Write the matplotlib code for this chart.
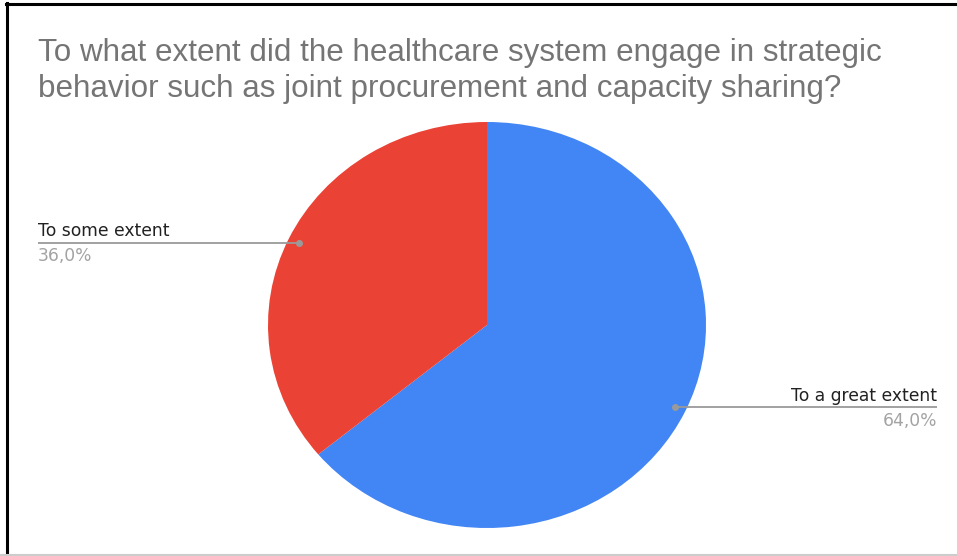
import matplotlib
matplotlib.use("Agg")
import matplotlib.pyplot as plt
import numpy as np
from matplotlib.lines import Line2D

title = "To what extent did the healthcare system engage in strategic\nbehavior such as joint procurement and capacity sharing?"
categories = ["To a great extent", "To some extent"]
values = [64.0, 36.0]
colors = ["#4285F4", "#EA4335"]

W, H = 957, 556
fig = plt.figure(figsize=(W / 100, H / 100), dpi=100)
fig.patch.set_facecolor("white")

# pie axes (slightly elliptical like reference)
px0, px1, py0, py1 = 268, 706, 122, 528
pax = fig.add_axes([px0 / W, 1 - py1 / H, (px1 - px0) / W, (py1 - py0) / H])
wedges, _ = pax.pie(values, colors=colors, startangle=90, counterclock=False,
                    radius=1.0, wedgeprops=dict(linewidth=0))
pax.set_aspect("auto")
pax.set_xlim(-1, 1)
pax.set_ylim(-1, 1)
pax.axis("off")

# overlay axes in pixel coordinates
ov = fig.add_axes([0, 0, 1, 1], zorder=5)
ov.set_xlim(0, W)
ov.set_ylim(H, 0)
ov.axis("off")
ov.patch.set_alpha(0)

cx, cy = (px0 + px1) / 2, (py0 + py1) / 2
rx, ry = (px1 - px0) / 2, (py1 - py0) / 2
for w, cat, v in zip(wedges, categories, values):
    mid = np.deg2rad((w.theta1 + w.theta2) / 2)
    dx = cx + np.cos(mid) * rx * 0.95
    dy = cy - np.sin(mid) * ry * 0.95
    pct = f"{v:.1f}".replace(".", ",") + "%"
    if np.cos(mid) < 0:
        ex, ha = 38, "left"
    else:
        ex, ha = 937, "right"
    ov.plot([dx, ex], [dy, dy], color="#9a9a9a", lw=1.3, solid_capstyle="butt")
    ov.plot([dx], [dy], marker="o", ms=4, color="#9a9a9a")
    ov.text(ex, dy - 6.5, cat, ha=ha, va="baseline", fontsize=12.3,
            color="#222222", family="DejaVu Sans")
    ov.text(ex, dy + 18.5, pct, ha=ha, va="baseline", fontsize=12.3,
            color="#a3a3a3", family="DejaVu Sans")

for i, line in enumerate(title.split("\n")):
    ov.text(38, 61 + 36 * i, line, ha="left", va="baseline", fontsize=22.6,
            color="#757575", family="Liberation Sans")

# frame lines
fig.add_artist(Line2D([7 / W, 7 / W], [0, 1 - 3 / H], color="black", lw=2.2,
                      transform=fig.transFigure))
fig.add_artist(Line2D([6 / W, 1], [1 - 4 / H, 1 - 4 / H], color="black", lw=2.2,
                      transform=fig.transFigure))
fig.add_artist(Line2D([0, 1], [1.5 / H, 1.5 / H], color="#cccccc", lw=1.5,
                      transform=fig.transFigure))

fig.savefig("out.png", dpi=100)
